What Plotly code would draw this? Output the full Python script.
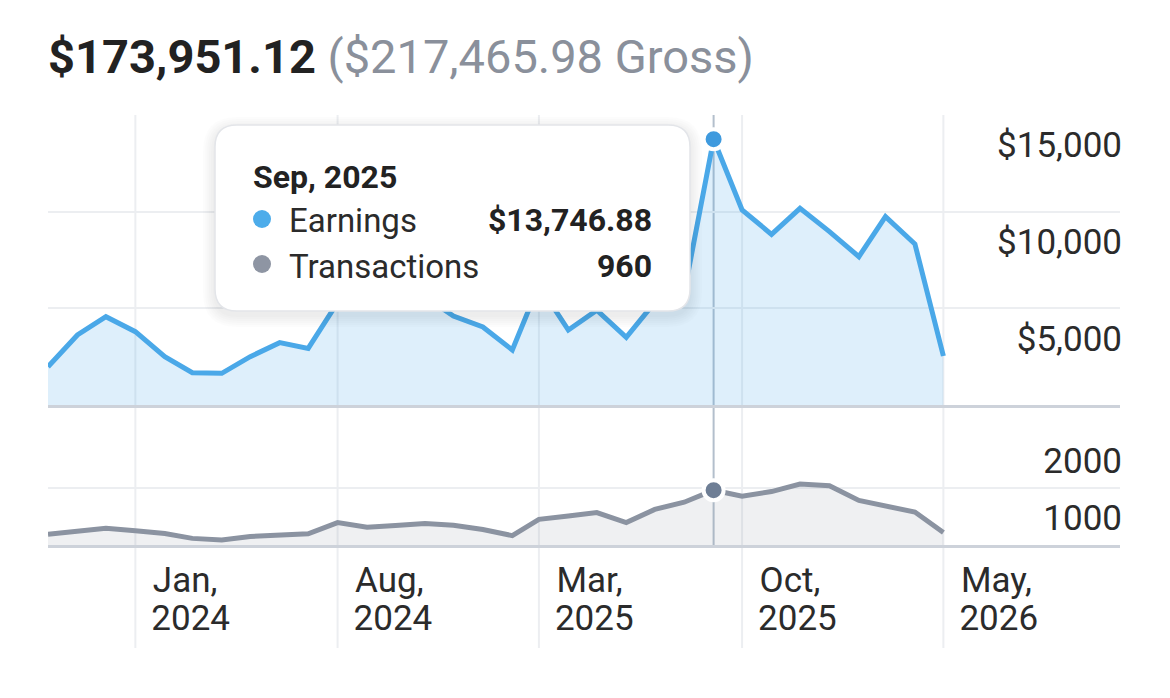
import plotly.graph_objects as go

# the page body has an 8px margin, so the figure is laid out 8px in from the window edge
OFF = 8
W, H = 1170 - OFF, 698 - OFF

months = [
    "2023-10-01", "2023-11-01", "2023-12-01",
    "2024-01-01", "2024-02-01", "2024-03-01", "2024-04-01", "2024-05-01", "2024-06-01",
    "2024-07-01", "2024-08-01", "2024-09-01", "2024-10-01", "2024-11-01", "2024-12-01",
    "2025-01-01", "2025-02-01", "2025-03-01", "2025-04-01", "2025-05-01", "2025-06-01",
    "2025-07-01", "2025-08-01", "2025-09-01", "2025-10-01", "2025-11-01", "2025-12-01",
    "2026-01-01", "2026-02-01", "2026-03-01", "2026-04-01", "2026-05-01",
]
earnings = [
    1981, 3620, 4567,
    3792, 2499, 1672, 1638, 2499, 3224,
    2930, 5300, 7000, 6400, 5600, 4600,
    4034, 2845, 6200, 3879, 4900, 3500,
    5300, 5800, 13746.88, 10086, 8827, 10172,
    8965, 7672, 9741, 8327, 2534,
]
transactions = [
    190, 245, 295,
    248, 202, 116, 87, 150, 173,
    196, 393, 312, 341, 376, 347,
    272, 165, 450, 508, 567, 393,
    624, 750, 960, 855, 936, 1069,
    1040, 780, 693, 577, 220,
]

tick_dates = ["2024-01-01", "2024-08-01", "2025-03-01", "2025-10-01", "2026-05-01"]
tick_months = ["Jan,", "Aug,", "Mar,", "Oct,", "May,"]
tick_years = ["2024", "2024", "2025", "2025", "2026"]
earn_ticks = [5000, 10000, 15000]
txn_ticks = [1000, 2000]

hover_month = "2025-09-01"
hover_label = "Sep, 2025"
net_total = "$173,951.12"
gross_total = "($217,465.98 Gross)"

BLUE = "#4aa8e8"
GRAY = "#8b93a1"
GRID = "#eceef1"
BASE = "#cdd2da"
TEXT = "#2b2b2b"
FONT = "Roboto"


def px(x):
    return (x - OFF) / W


def py(y):
    return 1 - (y - OFF) / H


def rrect(x0, y0, x1, y1, r):
    # rounded rectangle path in paper coords, from window pixel coords
    def p(x, y):
        return f"{px(x):.5f},{py(y):.5f}"
    return (f"M {p(x0 + r, y0)} L {p(x1 - r, y0)} Q {p(x1, y0)} {p(x1, y0 + r)} "
            f"L {p(x1, y1 - r)} Q {p(x1, y1)} {p(x1 - r, y1)} "
            f"L {p(x0 + r, y1)} Q {p(x0, y1)} {p(x0, y1 - r)} "
            f"L {p(x0, y0 + r)} Q {p(x0, y0)} {p(x0 + r, y0)} Z")


hi = months.index(hover_month)
x_range = ["2023-10-01", "2026-11-03"]

fig = go.Figure()
fig.add_trace(go.Scatter(
    x=months, y=earnings, mode="lines", fill="tozeroy",
    line=dict(color=BLUE, width=5), fillcolor="rgba(74,168,232,0.18)",
    xaxis="x", yaxis="y", hoverinfo="skip",
))
fig.add_trace(go.Scatter(
    x=months, y=transactions, mode="lines", fill="tozeroy",
    line=dict(color=GRAY, width=5), fillcolor="rgba(139,147,161,0.14)",
    xaxis="x2", yaxis="y2", hoverinfo="skip",
))
# invisible copy so the year-label axis gets drawn
fig.add_trace(go.Scatter(
    x=months, y=transactions, mode="lines", opacity=0, line=dict(width=0),
    xaxis="x3", yaxis="y2", hoverinfo="skip",
))
fig.add_trace(go.Scatter(
    x=[months[hi]], y=[earnings[hi]], mode="markers", cliponaxis=False,
    marker=dict(size=20, color="#3f9ade", line=dict(color="white", width=4)),
    xaxis="x", yaxis="y", hoverinfo="skip",
))
fig.add_trace(go.Scatter(
    x=[months[hi]], y=[transactions[hi]], mode="markers", cliponaxis=False,
    marker=dict(size=20, color="#6e7e95", line=dict(color="white", width=4)),
    xaxis="x2", yaxis="y2", hoverinfo="skip",
))

shapes = []
# vertical grid lines running through both panels and the date labels
for d in tick_dates:
    shapes.append(dict(type="line", xref="x", yref="paper", x0=d, x1=d,
                       y0=py(648), y1=py(115), layer="below",
                       line=dict(color=GRID, width=2)))
# hover crosshair
shapes.append(dict(type="line", xref="x", yref="paper", x0=months[hi], x1=months[hi],
                   y0=py(545), y1=py(115), layer="below",
                   line=dict(color="#b3bfcc", width=2)))

# tooltip: soft shadow + box
bx0, by0, bx1, by1 = 215, 125, 690, 311
for k in range(1, 7):
    e = k * 2
    shapes.append(dict(type="path", xref="paper", yref="paper", layer="above",
                       path=rrect(bx0 - e, by0 - e + 4, bx1 + e, by1 + e + 4, 22 + e),
                       fillcolor="rgba(0,0,0,0.012)", line=dict(width=0)))
shapes.append(dict(type="path", xref="paper", yref="paper", layer="above",
                   path=rrect(bx0, by0, bx1, by1, 22),
                   fillcolor="white", line=dict(color="#e3e5e9", width=1.5)))
for cy, col in [(219, "#4dacea"), (264, "#8e95a3")]:
    shapes.append(dict(type="circle", xref="paper", yref="paper", layer="above",
                       x0=px(262 - 9), x1=px(262 + 9), y0=py(cy + 9), y1=py(cy - 9),
                       fillcolor=col, line=dict(width=0)))

annotations = [
    dict(text=f"<b>{net_total}</b> <span style='color:#8a909b'>{gross_total}</span>",
         x=px(46), y=py(56), xanchor="left", yanchor="middle",
         font=dict(size=47, color="#222222", family=FONT)),
    dict(text=f"<b>{hover_label}</b>", x=px(251), y=py(177), xanchor="left", yanchor="middle",
         font=dict(size=32, color="#222222", family=FONT)),
    dict(text="Earnings", x=px(287), y=py(220), xanchor="left", yanchor="middle",
         font=dict(size=33, color=TEXT, family=FONT)),
    dict(text=f"<b>${earnings[hi]:,.2f}</b>", x=px(654), y=py(220), xanchor="right",
         yanchor="middle", font=dict(size=32, color="#222222", family=FONT)),
    dict(text="Transactions", x=px(287), y=py(266), xanchor="left", yanchor="middle",
         font=dict(size=33, color=TEXT, family=FONT)),
    dict(text=f"<b>{transactions[hi]:,d}</b>", x=px(654), y=py(266), xanchor="right",
         yanchor="middle", font=dict(size=32, color="#222222", family=FONT)),
]
for a in annotations:
    a.update(xref="paper", yref="paper", showarrow=False)

tick_font = dict(size=35, color=TEXT, family=FONT)
x_common = dict(type="date", range=x_range, domain=[px(48), px(1120)], showgrid=False,
                zeroline=False, ticks="", ticklen=0, fixedrange=True)
# y axes float just past the plot edge so the inside labels end flush with the grid
y_common = dict(side="right", anchor="free", position=px(1125), showgrid=True,
                gridcolor=GRID, gridwidth=2, zeroline=False, showline=False,
                ticks="", ticklen=0, ticklabelposition="inside",
                ticklabelshift=30, tickfont=tick_font, fixedrange=True)

fig.update_layout(
    width=W, height=H,
    margin=dict(l=0, r=0, t=0, b=0),
    paper_bgcolor="white", plot_bgcolor="white",
    showlegend=False, hovermode=False,
    font=dict(family=FONT),
    xaxis=dict(**x_common, anchor="y", showticklabels=False,
               showline=True, linecolor=BASE, linewidth=3),
    xaxis2=dict(**x_common, anchor="y2", showline=True, linecolor=BASE, linewidth=3,
                tickvals=tick_dates, ticktext=tick_months, tickfont=tick_font,
                ticklabelposition="outside right", ticklabelshift=16, ticklabelstandoff=2),
    xaxis3=dict(**x_common, anchor="y2", overlaying="x2", side="bottom", showline=False,
                tickvals=tick_dates, ticktext=tick_years, tickfont=tick_font,
                ticklabelposition="outside right", ticklabelshift=16, ticklabelstandoff=49),
    yaxis=dict(**y_common, domain=[py(405), py(114)], range=[0, 15050],
               tickvals=earn_ticks, ticktext=[f"${v:,d}" for v in earn_ticks]),
    yaxis2=dict(**y_common, domain=[py(545), py(430)], range=[0, 2015],
                tickvals=txn_ticks, ticktext=[f"{v:d}" for v in txn_ticks]),
    shapes=shapes,
    annotations=annotations,
)

fig.write_html("out.html")
